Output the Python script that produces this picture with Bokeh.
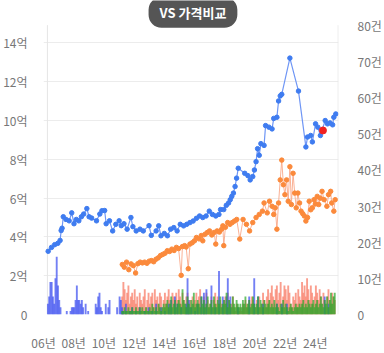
from bokeh.plotting import figure
from bokeh.models import Range1d, LinearAxis, FixedTicker, CustomJSTickFormatter, Label
from bokeh.embed import file_html
from bokeh.resources import INLINE

# ---------------- data ----------------
blue_x = [2006.31, 2006.53, 2006.74, 2006.95, 2007.10, 2007.17, 2007.23, 2007.31, 2007.49, 2007.70,
          2007.87, 2008.02, 2008.17, 2008.34, 2008.51, 2008.66, 2008.87, 2009.02, 2009.19, 2009.51,
          2009.73, 2009.87, 2010.05, 2010.15, 2010.37, 2010.58, 2010.79, 2011.01, 2011.15, 2011.33,
          2011.54, 2011.79, 2011.92, 2012.14, 2012.39, 2012.61, 2012.99, 2013.14, 2013.46, 2013.63,
          2013.78, 2014.00, 2014.21, 2014.42, 2014.63, 2014.85, 2015.06, 2015.28, 2015.49, 2015.70,
          2015.91, 2016.13, 2016.34, 2016.55, 2016.77, 2016.98, 2017.19, 2017.41, 2017.62, 2017.73,
          2017.94, 2018.11, 2018.26, 2018.37, 2018.47, 2018.58, 2018.69, 2018.79, 2018.90, 2019.33,
          2019.54, 2019.69, 2019.86, 2019.97, 2020.08, 2020.18, 2020.29, 2020.40, 2020.61, 2020.71,
          2020.93, 2021.14, 2021.25, 2021.46, 2021.57, 2021.68, 2021.78, 2022.32, 2022.89, 2023.38,
          2023.49, 2023.70, 2023.81, 2024.02, 2024.17, 2024.34, 2024.66, 2024.81, 2024.98, 2025.15,
          2025.23, 2025.36]
blue_y = [3.26, 3.46, 3.60, 3.67, 3.82, 4.33, 4.45, 5.04, 4.90, 4.83,
          5.24, 4.68, 4.90, 4.83, 5.04, 5.18, 5.46, 5.04, 4.97, 4.83,
          5.18, 5.35, 5.36, 4.68, 4.83, 4.31, 4.65, 4.83, 4.58, 4.68,
          4.40, 5.00, 4.53, 4.31, 4.40, 4.31, 4.58, 4.08, 4.31, 4.57,
          4.06, 4.18, 4.06, 4.40, 4.48, 4.31, 4.65, 4.57, 4.65, 4.74,
          4.82, 4.96, 5.08, 5.00, 5.08, 5.33, 5.16, 5.08, 5.16, 5.41,
          5.41, 5.63, 5.75, 5.92, 6.09, 6.26, 6.60, 7.03, 7.54, 7.28,
          7.16, 6.94, 7.11, 7.45, 7.88, 8.55, 8.21, 8.81, 8.72, 9.74,
          9.66, 9.57, 10.11, 10.17, 11.01, 11.27, 11.35, 13.22, 11.52, 8.64,
          9.15, 9.23, 8.90, 9.83, 9.66, 9.23, 10.00, 9.83, 9.88, 9.78,
          10.17, 10.34]

orange_x = [2011.22, 2011.35, 2011.50, 2011.65, 2011.80, 2011.95, 2012.10, 2012.25, 2012.40, 2012.55,
            2012.70, 2012.85, 2013.00, 2013.15, 2013.30, 2013.45, 2013.60, 2013.75, 2013.90, 2014.05,
            2014.20, 2014.35, 2014.50, 2014.65, 2014.80, 2014.95, 2015.12, 2015.20, 2015.35, 2015.45,
            2015.59, 2015.70, 2015.85, 2016.00, 2016.13, 2016.30, 2016.45, 2016.55, 2016.70, 2016.85,
            2017.00, 2017.15, 2017.30, 2017.41, 2017.50, 2017.65, 2017.80, 2017.88, 2017.94, 2018.05,
            2018.20, 2018.35, 2018.50, 2018.65, 2018.80, 2019.00, 2019.22, 2019.44, 2019.65, 2019.86,
            2020.08, 2020.29, 2020.50, 2020.61, 2020.82, 2020.97, 2021.14, 2021.25, 2021.35, 2021.46,
            2021.57, 2021.68, 2021.78, 2021.89, 2021.99, 2022.10, 2022.21, 2022.32, 2022.42, 2022.53,
            2022.64, 2022.74, 2022.85, 2022.96, 2023.06, 2023.17, 2023.28, 2023.38, 2023.49, 2023.60,
            2023.70, 2023.81, 2023.92, 2024.02, 2024.13, 2024.23, 2024.34, 2024.45, 2024.59, 2024.77,
            2024.88, 2025.02, 2025.09, 2025.23, 2025.32]
orange_y = [2.58, 2.44, 2.70, 2.31, 2.61, 2.52, 2.14, 2.62, 2.70, 2.66,
            2.70, 2.64, 2.75, 2.78, 2.72, 2.85, 2.92, 3.04, 3.10, 3.16,
            3.29, 3.25, 3.37, 3.30, 3.46, 3.40, 2.02, 3.50, 3.55, 3.48,
            2.36, 3.63, 3.70, 3.80, 3.97, 3.90, 4.07, 3.80, 4.14, 4.23,
            4.31, 4.10, 4.23, 3.63, 4.31, 4.25, 4.40, 4.57, 3.55, 4.50,
            4.74, 4.65, 4.74, 4.82, 4.90, 3.89, 4.90, 4.65, 4.31, 4.74,
            5.00, 5.16, 5.33, 5.75, 5.24, 5.84, 5.58, 5.16, 5.50, 4.40,
            5.75, 6.94, 7.96, 6.69, 6.18, 6.94, 5.84, 7.62, 5.67, 7.28,
            6.26, 5.50, 6.26, 5.75, 5.33, 5.20, 5.08, 4.82, 5.00, 5.84,
            5.40, 5.50, 5.92, 5.70, 6.09, 5.67, 6.00, 6.35, 5.92, 5.58,
            6.18, 6.35, 5.75, 5.33, 5.92]

current_x = [2024.51]
current_y = [9.49]

# monthly counts (건), blue from 2006-04, salmon & green from 2011-03
blue_cnt_start = (2006, 4)
blue_cnt = [3, 5, 9, 9, 5, 3, 10, 16, 8,
            4, 2, 0, 0, 0, 0, 1, 0, 0, 1, 2, 2,
            2, 4, 8, 4, 4, 3, 4, 2, 0, 3, 0, 1,
            0, 0, 0, 0, 0, 3, 2, 5, 6, 2, 1, 0,
            0, 3, 0, 2, 4, 0, 0, 0, 0, 0, 2, 0,
            5, 4, 2, 1, 0, 3, 0, 0, 1, 0, 2, 0,
            0, 1, 0, 0, 2, 0, 0, 0, 1, 0, 0, 2,
            0, 0, 1, 0, 0, 3, 0, 0, 0, 2, 0, 0,
            1, 0, 0, 3, 0, 4, 0, 0, 5, 0, 3, 0,
            0, 2, 0, 0, 0, 3, 10, 4, 0, 2, 0, 0,
            1, 0, 3, 0, 0, 5, 0, 6, 0, 7, 0, 0,
            0, 8, 0, 0, 2, 0, 0, 12, 0, 0, 5, 0,
            0, 5, 10, 0, 5, 0, 0, 0, 0, 0, 2, 0,
            0, 0, 0, 0, 0, 0, 0, 5, 0, 0, 0, 10,
            0, 0, 5, 0, 0, 0, 3, 0, 0, 0, 0, 0,
            0, 0, 0, 0, 0, 3, 0, 0, 0, 3, 0, 0,
            0, 3, 0, 0, 0, 0, 0, 0, 0, 0, 0, 0,
            0, 0, 0, 0, 0, 0, 0, 0, 0, 0, 0, 0,
            0, 0, 0, 0, 0, 0, 0, 5, 0, 0, 3, 0,
            0, 0, 0, 0]
salmon_cnt_start = (2011, 3)
salmon_cnt = [5, 9, 7, 4, 6, 8, 3, 5, 6, 4,
              7, 3, 5, 2, 6, 4, 3, 5, 7, 2, 4, 6,
              3, 5, 6, 2, 7, 4, 5, 3, 6, 5, 2, 4,
              6, 3, 5, 7, 4, 2, 6, 5, 3, 6, 4, 7,
              5, 3, 6, 4, 2, 5, 6, 3, 4, 2, 5, 3,
              4, 6, 3, 5, 7, 4, 2, 5, 3, 6, 4, 2,
              3, 5, 2, 4, 6, 3, 5, 2, 4, 3, 2, 4,
              5, 3, 6, 4, 2, 3, 5, 2, 1, 3, 2, 1,
              2, 1, 3, 2, 4, 3, 2, 4, 3, 5, 4, 3,
              2, 4, 3, 5, 2, 3, 6, 4, 2, 5, 7, 4,
              6, 8, 5, 3, 7, 8, 4, 6, 9, 3, 5, 8,
              7, 4, 8, 6, 3, 2, 5, 4, 6, 3, 7, 5,
              4, 9, 6, 8, 5, 10, 7, 4, 8, 6, 3, 5,
              8, 6, 4, 7, 5, 3, 6, 4, 2, 5, 7, 4,
              3, 6, 5, 4]
green_cnt_start = (2011, 3)
green_cnt = [1, 1, 2, 1, 1, 2, 1, 1, 2, 1,
             1, 2, 1, 1, 2, 1, 2, 1, 1, 2, 1, 1,
             2, 1, 3, 2, 1, 2, 1, 3, 2, 1, 2, 3,
             2, 3, 4, 2, 3, 5, 2, 3, 4, 2, 3, 4,
             3, 2, 7, 4, 3, 2, 5, 3, 2, 4, 3, 6,
             2, 3, 4, 3, 2, 5, 3, 4, 2, 3, 5, 2,
             3, 4, 2, 5, 3, 2, 4, 3, 5, 2, 3, 4,
             3, 6, 2, 4, 3, 2, 5, 3, 2, 4, 3, 2,
             3, 2, 4, 3, 5, 2, 3, 4, 2, 3, 5, 3,
             2, 3, 5, 2, 4, 3, 2, 4, 3, 2, 3, 4,
             2, 3, 2, 4, 2, 3, 2, 1, 3, 2, 4, 2,
             3, 2, 1, 2, 3, 2, 1, 2, 3, 2, 2, 3,
             2, 3, 4, 2, 3, 2, 4, 3, 2, 3, 4, 2,
             3, 4, 2, 3, 5, 3, 2, 4, 3, 5, 2, 4,
             6, 3, 5, 6]

x_tick_years = [2006, 2008, 2010, 2012, 2014, 2016, 2018, 2020, 2022, 2024]
left_ticks = [0, 2, 4, 6, 8, 10, 12, 14]
right_ticks = [0, 10, 20, 30, 40, 50, 60, 70, 80]


def month_pos(start, n):
    y, m = start
    return [y + (m - 1 + i) / 12 + 1 / 24 for i in range(n)]


FONT = "Noto Sans CJK KR"
GRAY = "#777777"
EDGE = "#e6e6e6"
X0, X1 = 2006.0, 2025.54
FRAME_TOP = 14.92  # left-axis value at the top of the chart area (y = 25 px)

# frame runs to the top of the canvas so the title pill is not clipped
p = figure(width=384, height=353, output_backend="svg", toolbar_location=None,
           x_range=Range1d(X0, X1), y_range=Range1d(0, 16.19),
           min_border_left=37, min_border_right=42, min_border_top=0, min_border_bottom=35,
           background_fill_color="white", border_fill_color="white")
p.outline_line_color = None
p.extra_y_ranges = {"cnt": Range1d(0, 86.83)}

# thin edge lines of the chart area
p.segment(x0=[2006.26, X1 - 0.02], y0=[0, 0], x1=[2006.26, X1 - 0.02], y1=[FRAME_TOP, FRAME_TOP],
          line_color=EDGE, line_width=1)

BW = 1.5 / 12
# bars
p.vbar(x=month_pos(salmon_cnt_start, len(salmon_cnt)), top=salmon_cnt, width=BW,
       y_range_name="cnt", fill_color="#f98672", fill_alpha=0.8, line_color=None)
p.vbar(x=month_pos(blue_cnt_start, len(blue_cnt)), top=blue_cnt, width=BW,
       y_range_name="cnt", fill_color="#4456f0", fill_alpha=0.75, line_color=None)
p.vbar(x=month_pos(green_cnt_start, len(green_cnt)), top=green_cnt, width=BW,
       y_range_name="cnt", fill_color="#2aa62a", fill_alpha=0.7, line_color=None)

# lines
p.line(orange_x, orange_y, line_color="#f9a889", line_width=1, line_alpha=0.9)
p.scatter(orange_x, orange_y, size=4.5, fill_color="#fb8a3c", line_color="#fb8a3c")
p.line(blue_x, blue_y, line_color="#6f96f5", line_width=1.2)
p.scatter(blue_x, blue_y, size=4.5, fill_color="#3f7cf0", line_color="#3f7cf0")
p.scatter(current_x, current_y, size=7, fill_color="#f02020", line_color="#f02020")

# axes
p.xaxis.ticker = FixedTicker(ticks=x_tick_years)
p.xaxis.formatter = CustomJSTickFormatter(
    code="return String(Math.round(tick) % 100).padStart(2, '0') + '년';")
p.xgrid.visible = False
p.ygrid.ticker = FixedTicker(ticks=left_ticks)
p.ygrid.grid_line_color = "#ececec"

p.yaxis.ticker = FixedTicker(ticks=left_ticks)
p.yaxis.formatter = CustomJSTickFormatter(code="return tick == 0 ? '0' : tick + '억';")

raxis = LinearAxis(y_range_name="cnt", ticker=FixedTicker(ticks=right_ticks),
                   formatter=CustomJSTickFormatter(code="return tick == 0 ? '0' : tick + '건';"))
p.add_layout(raxis, "right")

for ax in [p.xaxis[0], p.yaxis[0], raxis]:
    ax.major_tick_line_color = None
    ax.minor_tick_line_color = None
    ax.axis_line_color = None
    ax.major_label_text_font = FONT
    ax.major_label_text_font_size = "12px"
    ax.major_label_text_color = GRAY
p.xaxis[0].major_label_standoff = 13
p.yaxis[0].major_label_standoff = 10
raxis.major_label_standoff = 13

# title pill
pill = Label(x=2015.9, y=15.58, text="VS 가격비교", text_align="center", text_baseline="middle",
             text_font=FONT, text_font_size="13px", text_font_style="bold", text_color="white",
             background_fill_color="#555555", background_fill_alpha=1.0,
             border_radius=13, padding=(11, 6))
p.add_layout(pill)

open("out.html", "w").write(file_html(p, INLINE))
